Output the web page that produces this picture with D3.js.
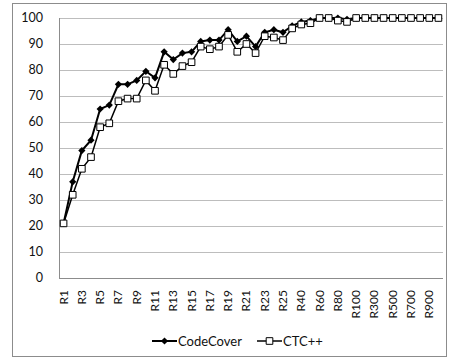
<!DOCTYPE html>
<html>
<head>
<meta charset="utf-8">
<script src="https://cdn.jsdelivr.net/npm/d3@7"></script>
<style>
  body { margin: 0; background: #fff; }
  svg { display: block; }
  text { font-family: Lato, "Open Sans", sans-serif; fill: #111; }
</style>
</head>
<body>
<svg id="chart" width="450" height="360"></svg>
<script>
// categories (rounds)
var rounds = ["R1","R2","R3","R4","R5","R6","R7","R8","R9","R10",
              "R11","R12","R13","R14","R15","R16","R17","R18","R19","R20",
              "R21","R22","R23","R24","R25","R30","R40","R50","R60","R70",
              "R80","R90","R100","R200","R300","R400","R500","R600","R700","R800",
              "R900","R1000"];

var codeCover = [21, 37, 49, 53, 65, 66.5, 74.5, 74.5, 76, 79.5,
                 77, 87, 84, 86.5, 87, 91, 91.5, 91.5, 95.5, 91,
                 93, 89, 94.5, 95.5, 94.5, 97, 98.5, 99, 100, 100,
                 100, 99.5, 100, 100, 100, 100, 100, 100, 100, 100,
                 100, 100];

var ctc = [21, 32, 42, 46.5, 58, 59.5, 68, 69, 69, 76,
           72, 82, 78.5, 81.5, 83, 89, 88, 89, 93.5, 87,
           90, 86.5, 93, 92.5, 91.5, 96, 97.5, 98, 100, 100,
           99, 98.5, 100, 100, 100, 100, 100, 100, 100, 100,
           100, 100];

var yTicks = [0, 10, 20, 30, 40, 50, 60, 70, 80, 90, 100];
var seriesNames = ["CodeCover", "CTC++"];

var svg = d3.select("#chart");

// outer frame
svg.append("rect")
  .attr("x", 12.5).attr("y", 3.5)
  .attr("width", 434).attr("height", 353)
  .attr("fill", "none")
  .attr("stroke", "#8c8c8c");

var plotL = 59, plotR = 443, plotT = 18, plotB = 278;

var x = d3.scalePoint().domain(rounds).range([plotL, plotR]).padding(0.5);
var y = d3.scaleLinear().domain([0, 100]).range([plotB, plotT]);

// gridlines
svg.append("g").selectAll("line")
  .data(yTicks.filter(function(d){ return d > 0; }))
  .enter().append("line")
  .attr("x1", plotL).attr("x2", plotR)
  .attr("y1", function(d){ return Math.round(y(d)) + 0.5; })
  .attr("y2", function(d){ return Math.round(y(d)) + 0.5; })
  .attr("stroke", "#bdbdbd");

// axes lines
svg.append("line")
  .attr("x1", plotL + 0.5).attr("x2", plotL + 0.5)
  .attr("y1", plotT).attr("y2", plotB)
  .attr("stroke", "#8c8c8c");
svg.append("line")
  .attr("x1", plotL).attr("x2", plotR)
  .attr("y1", plotB + 0.5).attr("y2", plotB + 0.5)
  .attr("stroke", "#8c8c8c");

// y labels
svg.append("g").selectAll("text")
  .data(yTicks)
  .enter().append("text")
  .attr("x", 43)
  .attr("y", function(d){ return y(d); })
  .attr("dy", "0.35em")
  .attr("text-anchor", "end")
  .style("font-size", "12.5px")
  .text(function(d){ return d; });

// x labels, every other one
svg.append("g").selectAll("text")
  .data(rounds.filter(function(d, i){ return i % 2 == 0; }))
  .enter().append("text")
  .attr("transform", function(d){ return "translate(" + (x(d) + 4) + ",290) rotate(-90)"; })
  .attr("text-anchor", "end")
  .style("font-size", "12px")
  .text(function(d){ return d; });

var line = d3.line()
  .x(function(d, i){ return x(rounds[i]); })
  .y(function(d){ return y(d); });

var diamond = d3.symbol().type(d3.symbolSquare).size(26);
var square = d3.symbol().type(d3.symbolSquare).size(44);

// CodeCover
svg.append("path")
  .datum(codeCover)
  .attr("d", line)
  .attr("fill", "none")
  .attr("stroke", "#000")
  .attr("stroke-width", 2);
svg.append("g").selectAll("path")
  .data(codeCover)
  .enter().append("path")
  .attr("d", diamond)
  .attr("transform", function(d, i){ return "translate(" + x(rounds[i]) + "," + y(d) + ") rotate(45)"; })
  .attr("fill", "#000");

// CTC++
svg.append("path")
  .datum(ctc)
  .attr("d", line)
  .attr("fill", "none")
  .attr("stroke", "#000")
  .attr("stroke-width", 1.5);
svg.append("g").selectAll("path")
  .data(ctc)
  .enter().append("path")
  .attr("d", square)
  .attr("transform", function(d, i){ return "translate(" + x(rounds[i]) + "," + y(d) + ")"; })
  .attr("fill", "#fff")
  .attr("stroke", "#000")
  .attr("stroke-width", 1);

// legend
var legY = 341;
var leg = svg.append("g");
var lg1 = leg.append("g").attr("transform", "translate(152," + legY + ")");
lg1.append("line").attr("x1", 0).attr("x2", 25).attr("stroke", "#000").attr("stroke-width", 2);
lg1.append("path").attr("d", diamond).attr("transform", "translate(12.5,0) rotate(45)").attr("fill", "#000");
lg1.append("text").attr("x", 26).attr("dy", "0.35em").style("font-size", "13px").text(seriesNames[0]);

var lg2 = leg.append("g").attr("transform", "translate(257," + legY + ")");
lg2.append("line").attr("x1", 0).attr("x2", 25).attr("stroke", "#000").attr("stroke-width", 1.5);
lg2.append("path").attr("d", square).attr("transform", "translate(12.5,0)")
  .attr("fill", "#fff").attr("stroke", "#000");
lg2.append("text").attr("x", 26).attr("dy", "0.35em").style("font-size", "13px").text(seriesNames[1]);
</script>
</body>
</html>
